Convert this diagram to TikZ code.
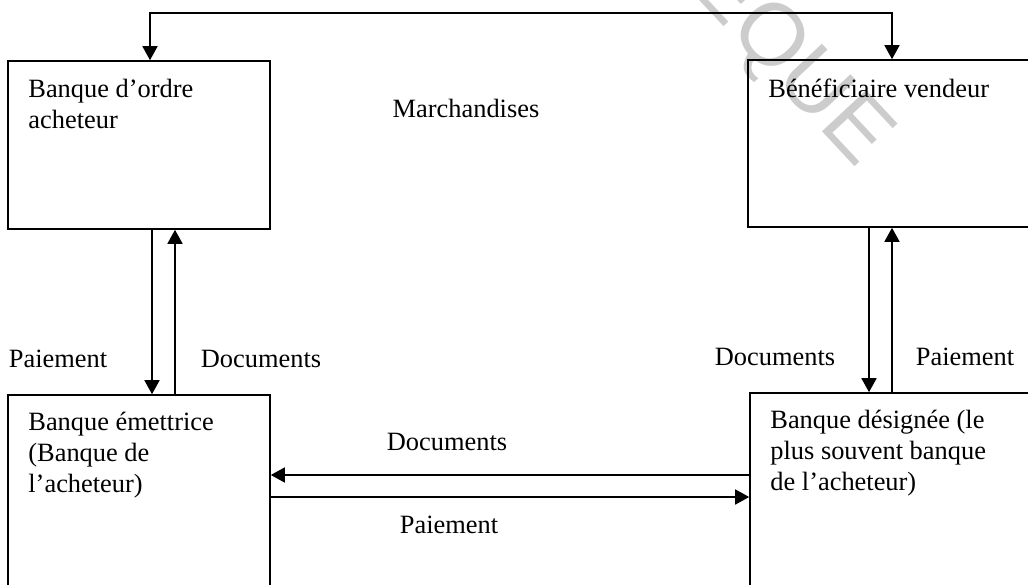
\documentclass[tikz,border=0pt]{standalone}
\usepackage{fontspec}
\setmainfont{Liberation Serif}
\newfontfamily\wmfont{Liberation Sans}
\usetikzlibrary{arrows.meta}
\begin{document}
\begin{tikzpicture}[x=0.5pt,y=-0.5pt,
  box/.style={draw, line width=0.8pt, inner sep=0pt},
  txt/.style={inner sep=0pt, align=left, anchor=north west,
    font=\fontsize{13.2pt}{15.5pt}\selectfont},
  lbl/.style={inner sep=0pt, anchor=base,
    font=\fontsize{13.2pt}{15.5pt}\selectfont},
  conn/.style={line width=0.8pt, -{Triangle[width=7.5pt,length=7pt]}},
  conn2/.style={line width=0.8pt, {Triangle[width=7.5pt,length=7pt]}-{Triangle[width=7.5pt,length=7pt]}},
  wm/.style={inner sep=0pt, rotate=-47, text=black!20,
    font=\wmfont\fontsize{44pt}{44pt}\selectfont}]
\useasboundingbox (0,0) rectangle (1028,584);
\clip (0,0) rectangle (1028,584);
\fill[white] (0,0) rectangle (1028,584);

% watermark
\node[wm, anchor=base east] (wm1) at (727,30) {THE};
\node[wm, anchor=base west] (wm2) at (727,30) {QUE};

% boxes
\node[box, minimum width=131pt, minimum height=84pt] (A) at (139,145) {};
\node[box, minimum width=151pt, minimum height=83.5pt] (B) at (899,143.5) {};
\node[box, minimum width=131pt, minimum height=112.5pt] (C) at (139,507.5) {};
\node[box, minimum width=150pt, minimum height=113.5pt] (D) at (900,506.5) {};

% box texts
\node[txt] (tA) at (28,78.7) {Banque d’ordre\\acheteur};
\node[txt] (tB) at (768,79) {Bénéficiaire vendeur};
\node[txt] (tC) at (28,412) {Banque émettrice\\(Banque de\\l’acheteur)};
\node[txt] (tD) at (770,410) {Banque désignée (le\\plus souvent banque\\de l’acheteur)};

% top connector
\coordinate (t1) at (150,13);
\coordinate (t2) at (892,13);
\draw[conn2] (t1 |- A.north) -- (t1) -- (t2) -- (t2 |- B.north);

% left verticals
\draw[conn] ([xshift=6.5pt]A.south) -- ([xshift=6.5pt]A.south |- C.north);
\draw[conn] ([xshift=18pt]A.south |- C.north) -- ([xshift=18pt]A.south);

% right verticals
\draw[conn] ([xshift=-15pt]B.south) -- ([xshift=-15pt]B.south |- D.north);
\draw[conn] ([xshift=-3.5pt]B.south |- D.north) -- ([xshift=-3.5pt]B.south);

% horizontals
\draw[conn] ([yshift=15.75pt]D.west) -- ([yshift=15.75pt]D.west -| C.east);
\draw[conn] ([yshift=4.75pt]D.west -| C.east) -- ([yshift=4.75pt]D.west);

% labels
\node[lbl] (lM) at (466,117) {Marchandises};
\node[lbl] (lP1) at (58,367) {Paiement};
\node[lbl] (lD1) at (261,367) {Documents};
\node[lbl] (lD2) at (775,365) {Documents};
\node[lbl] (lP2) at (965,365) {Paiement};
\node[lbl] (lD3) at (447,450) {Documents};
\node[lbl] (lP3) at (449,533) {Paiement};
\end{tikzpicture}
\end{document}
